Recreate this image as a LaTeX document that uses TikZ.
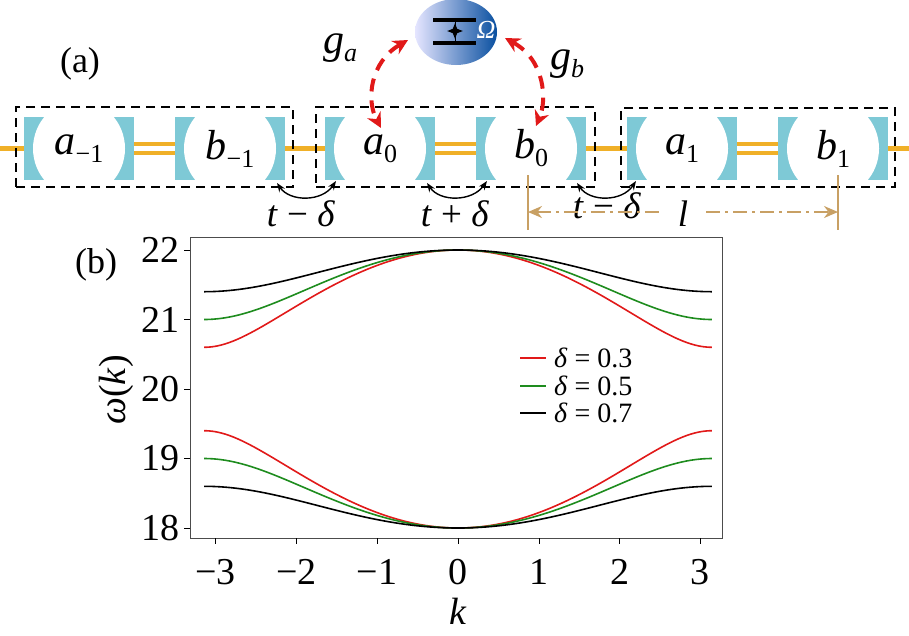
\documentclass[tikz,border=0pt]{standalone}
\usepackage{fontspec}
\setmainfont{Liberation Serif}
\usetikzlibrary{arrows.meta,shapes.geometric}
\definecolor{cav}{RGB}{126,201,214}
\definecolor{wire}{RGB}{240,176,40}
\definecolor{tanc}{RGB}{200,160,100}
\definecolor{rd}{RGB}{225,25,25}
\definecolor{gr}{RGB}{30,140,30}
\definecolor{dblue}{RGB}{10,80,160}
\newcommand{\sbs}[1]{\raisebox{-8pt}{\fontsize{26}{26}\selectfont\upshape #1}}
\tikzset{
 cavity/.style={rectangle,minimum width=110pt,minimum height=63pt,inner sep=0pt,fill=cav,
   path picture={\fill[white] (path picture bounding box.center) ellipse (46pt and 48pt);},font=\fontsize{42}{42}\selectfont\itshape},
 cell/.style={draw,line width=1.6pt,dash pattern=on 9pt off 6pt},
 hop/.style={{Stealth[length=9pt]}-{Stealth[length=9pt]},line width=1.4pt,black},
 hopl/.style={font=\fontsize{37}{37}\selectfont,inner sep=0pt},
 redarr/.style={rd,line width=4pt,dash pattern=on 13pt off 9pt,{Stealth[length=15pt,width=15pt]}-{Stealth[length=15pt,width=15pt]}},
 ticklab/.style={font=\fontsize{38}{38}\selectfont,inner sep=0pt},
}
\begin{document}
\begin{tikzpicture}[x=1pt,y=-1pt]
\useasboundingbox (0,0) rectangle (909,635);
% wire
\draw[wire,line width=5pt] (0,148) -- (909,148);
\foreach \xa in {134,435,737}{
 \fill[white] (\xa,144) rectangle ++(41,8);
 \draw[wire,line width=4pt] (\xa,143.5) -- ++(41,0);
 \draw[wire,line width=4pt] (\xa,153) -- ++(41,0);}
% cavities
\node[cavity] (am1) at (79,148.5) {a\sbs{−1}};
\node[cavity] (bm1) at (230,148.5) {b\sbs{−1}};
\node[cavity] (a0) at (380,148.5) {a\sbs{0}};
\node[cavity] (b0) at (531,148.5) {b\sbs{0}};
\node[cavity] (a1) at (682,148.5) {a\sbs{1}};
\node[cavity] (b1) at (833,148.5) {b\sbs{1}};
% cells
\node[cell,minimum width=277pt,minimum height=80pt] (c1) at (154.5,147) {};
\node[cell,minimum width=279pt,minimum height=80pt] (c2) at (455.5,147) {};
\node[cell,minimum width=274pt,minimum height=79pt] (c3) at (758,147.5) {};
% atom
\node[ellipse,minimum width=82pt,minimum height=66pt,left color=blue!10,right color=dblue,shading angle=90] (atom) at (456,32) {};
\draw[line width=4pt] (433,20) -- (476,20) (433,43) -- (476,43);
\node[star,star points=4,star point ratio=2.5,fill=black,inner sep=2.2pt] (st) at (455,31) {};
\draw[line width=1pt] (455,20) -- (455,43);
\node[text=white,font=\fontsize{26}{26}\selectfont\itshape] (om) at (486,30) {Ω};
% red arrows
\coordinate (ra1) at (408,40); \coordinate (ra2) at (381,128);
\coordinate (rb1) at (505,38); \coordinate (rb2) at (536,126);
\draw[redarr] (ra1) .. controls (370,62) and (366,100) .. (ra2);
\draw[redarr] (rb1) .. controls (545,60) and (547,100) .. (rb2);
\node[font=\fontsize{42}{42}\selectfont\itshape] (ga) at (340,48) {g\sbs{\itshape a}};
\node[font=\fontsize{42}{42}\selectfont\itshape] (gb) at (567,64) {g\sbs{\itshape b}};
\node[font=\fontsize{36}{36}\selectfont] (la) at (80,64) {(a)};
% hops
\coordinate (h1a) at (277,183); \coordinate (h1b) at (336,181);
\coordinate (h2a) at (427,183); \coordinate (h2b) at (487,181);
\coordinate (h3a) at (577,183); \coordinate (h3b) at (636,181);
\draw[hop] (h1a) .. controls (290,202) and (322,202) .. (h1b);
\node[hopl] (t1) at (301,214) {\textit{t} − \textit{δ}};
\draw[hop] (h2a) .. controls (440,202) and (472,202) .. (h2b);
\node[hopl] (t2) at (455,214) {\textit{t} + \textit{δ}};
\draw[hop] (h3a) .. controls (590,202) and (622,202) .. (h3b);
\node[hopl] (t3) at (607,206) {\textit{t} − \textit{δ}};
% length l
\coordinate (l1) at (528,175); \coordinate (l2) at (838,175);
\draw[tanc,line width=1.8pt] (l1) -- ++(0,55) (l2) -- ++(0,55);
\node[hopl,inner xsep=18pt] (ll) at (683,214) {\textit{l}};
\draw[tanc,line width=1.8pt,dash pattern=on 14pt off 5pt on 3pt off 5pt,{Stealth[length=14pt,width=12pt]}-] (528,212) -- (ll.west |- 0,212);
\draw[tanc,line width=1.8pt,dash pattern=on 14pt off 5pt on 3pt off 5pt,-{Stealth[length=14pt,width=12pt]}] (ll.east |- 0,212) -- (838,212);
% plot
\node[font=\fontsize{36}{36}\selectfont] (lb) at (96,265) {(b)};
\draw[line width=0.8pt,draw=black!70] (190,237) rectangle (722,538);
\foreach \k in {-3,...,3}{
 \draw (458+80.8*\k,538) -- ++(0,6);
 \node[ticklab] at (458+80.8*\k,572) {\ifnum\k<0 −\the\numexpr-\k\relax\else\k\fi};}
\foreach \w in {18,...,22}{
 \draw (190,528-69.5*\w+69.5*18) -- ++(-6,0);
 \node[ticklab,anchor=east] at (180,528-69.5*\w+69.5*18) {\w};}
\node[font=\fontsize{38}{38}\selectfont\itshape,inner sep=0pt] (kl) at (458,611) {k};
\node[font=\fontsize{38}{38}\selectfont,rotate=90] (wl) at (116,390) {\textit{ω}(\textit{k})};
\foreach \dd/\cc in {0.3/rd,0.5/gr,0.7/black}{
 \draw[\cc,line width=1.6pt] plot[domain=-pi:pi,samples=120,smooth] ({458+80.8*\x},{528-69.5*(2+sqrt(2+2*\dd*\dd+2*(1-\dd*\dd)*cos(\x r)))});
 \draw[\cc,line width=1.6pt] plot[domain=-pi:pi,samples=120,smooth] ({458+80.8*\x},{528-69.5*(2-sqrt(2+2*\dd*\dd+2*(1-\dd*\dd)*cos(\x r)))});}
\foreach \dd/\cc/\yy in {0.3/rd/358,0.5/gr/386,0.7/black/413}{
 \draw[\cc,line width=1.8pt] (520,\yy) -- (546,\yy);
 \node[anchor=west,inner sep=0pt,font=\fontsize{28}{28}\selectfont] at (554,\yy) {\textit{δ} = \dd};}
\end{tikzpicture}
\end{document}
